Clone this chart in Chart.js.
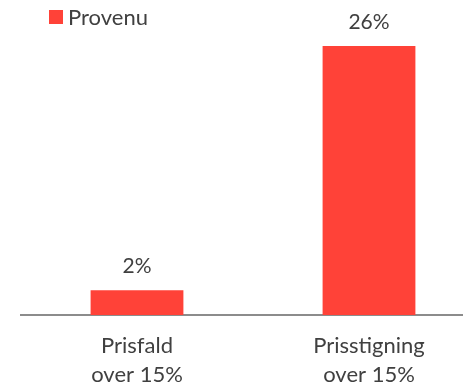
<!DOCTYPE html>
<html lang="da">
<head>
<meta charset="UTF-8">
<title>Provenu</title>
<style>
    html, body { margin: 0; padding: 0; background: #fff; overflow: hidden; }
    .wrap { width: 485px; height: 386px; position: relative; }
</style>
</head>
<body>
<div class="wrap"><canvas id="chart"></canvas></div>
<script src="https://cdn.jsdelivr.net/npm/chart.js"></script>
<script>
    const categories = [['Prisfald', 'over 15%'], ['Prisstigning', 'over 15%']];
    const seriesName = 'Provenu';
    const provenu = [2.4, 26];
    const valueLabels = ['2%', '26%'];

    const FONT = 'Lato, "Open Sans", sans-serif';
    const TEXT = '#404040';
    const RED = '#ff4238';

    // legend + value labels drawn by hand
    const labelsPlugin = {
        id: 'labels',
        afterDatasetsDraw(chart) {
            const ctx = chart.ctx;
            ctx.save();
            ctx.fillStyle = TEXT;
            ctx.font = '21px ' + FONT;
            ctx.textAlign = 'center';
            ctx.textBaseline = 'bottom';
            chart.getDatasetMeta(0).data.forEach((bar, i) => {
                ctx.fillText(valueLabels[i], bar.x, bar.y - 13);
            });
            // legend
            ctx.font = '22px ' + FONT;
            ctx.fillStyle = RED;
            ctx.fillRect(49, 10, 14, 14);
            ctx.fillStyle = TEXT;
            ctx.textAlign = 'left';
            ctx.textBaseline = 'middle';
            ctx.fillText(seriesName, 68, 18);
            ctx.restore();
        }
    };

    new Chart(document.getElementById('chart'), {
        type: 'bar',
        data: {
            labels: categories,
            datasets: [{
                label: seriesName,
                data: provenu,
                backgroundColor: RED,
                barPercentage: 0.4,
                categoryPercentage: 1
            }]
        },
        options: {
            responsive: true,
            maintainAspectRatio: false,
            animation: false,
            layout: { padding: { left: 21, top: 46, right: 0, bottom: 0 } },
            plugins: { legend: { display: false }, tooltip: { enabled: false } },
            scales: {
                x: {
                    grid: { display: false },
                    border: { color: '#8c8c8c', width: 2 },
                    ticks: { color: TEXT, font: { size: 22, family: FONT, lineHeight: 1.3 }, padding: 9, maxRotation: 0 },
                    afterFit(scale) { scale.height = 71; }
                },
                y: { display: false, min: 0, max: 26 }
            }
        },
        plugins: [labelsPlugin]
    });
</script>
</body>
</html>
